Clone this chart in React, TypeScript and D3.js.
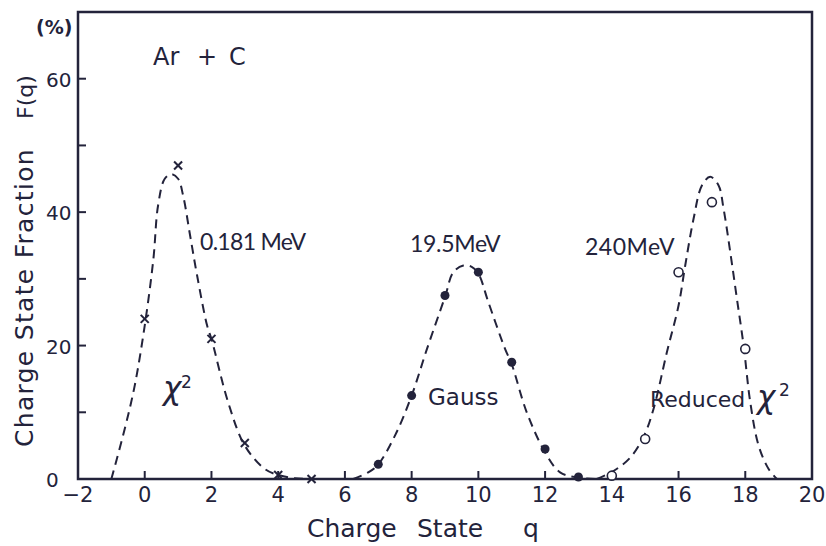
import React from "react";
import * as d3 from "d3";

// Measured points (Charge State q, Fraction %)
const crossQ = [0, 1, 2, 3, 4, 5];
const crossF = [24, 47, 21, 5.4, 0.6, 0];
const dotQ = [7, 8, 9, 10, 11, 12, 13];
const dotF = [2.2, 12.5, 27.5, 31, 17.5, 4.5, 0.3];
const ringQ = [14, 15, 16, 17, 18];
const ringF = [0.5, 6, 31, 41.5, 19.5];

// Fitted curves
const chiQ = [-1, -0.6, -0.3, 0, 0.26, 0.4, 0.6, 0.8, 1.0, 1.15, 1.36, 1.57, 1.87, 2.0, 2.5, 3.0, 3.6, 4.0, 4.5, 5.0];
const chiF = [0, 7.5, 14, 23, 33, 41, 45, 45.7, 45, 42.5, 36.5, 30.5, 23, 21, 11.5, 5, 1.5, 0.6, 0.1, 0];
const gaussQ = [6.25, 6.7, 7, 7.5, 8, 8.46, 9, 9.25, 9.55, 9.8, 10, 10.3, 10.8, 11, 11.45, 12, 12.45, 13, 13.5];
const gaussF = [0, 1.0, 2.2, 6.5, 12.5, 19.5, 27.3, 31, 32, 31.8, 30.8, 26.5, 19.5, 17.2, 10, 4, 1, 0.2, 0];
const redQ = [13.55, 14.05, 14.55, 14.95, 15.25, 15.65, 16, 16.2, 16.45, 16.7, 16.95, 17.2, 17.35, 17.55, 17.75, 17.95, 18.15, 18.4, 18.7, 18.95];
const redF = [0, 1.2, 3.2, 6.3, 10.5, 19, 26, 32, 39, 44, 45.3, 44, 40.5, 34, 27, 20, 11.5, 5, 1.5, 0];

const xTicks = [-2, 0, 2, 4, 6, 8, 10, 12, 14, 16, 18, 20];
const yTickLabels = [0, 20, 40, 60];
const yMinorTicks = [10, 20, 30, 40, 50, 60];

const INK = "#23233b";
const SANS = "'DejaVu Sans', sans-serif";
const LATO = "Lato, 'Open Sans', sans-serif";

export default function App() {
  const W = 826, H = 546;
  const left = 78, right = 812, top = 12, bottom = 479;
  const x = d3.scaleLinear().domain([-2, 20]).range([left, right]);
  const y = d3.scaleLinear().domain([0, 70]).range([bottom, top]);

  const line = d3.line<[number, number]>()
    .x(d => x(d[0]))
    .y(d => y(d[1]))
    .curve(d3.curveCatmullRom.alpha(0.5));

  const zip = (a: number[], b: number[]) => a.map((v, i) => [v, b[i]] as [number, number]);
  const curves = [zip(chiQ, chiF), zip(gaussQ, gaussF), zip(redQ, redF)];

  return (
    <svg width={W} height={H} style={{ position: "absolute", left: 0, top: 0, background: "#fff" }} fontFamily={SANS}>
      {/* frame */}
      <rect x={left} y={top} width={right - left} height={bottom - top} fill="none" stroke={INK} strokeWidth={2.5} />
      {/* x ticks */}
      {xTicks.slice(1, -1).map(t => (
        <line key={"xt" + t} x1={x(t)} x2={x(t)} y1={bottom} y2={bottom - 8} stroke={INK} strokeWidth={2} />
      ))}
      {xTicks.map(t => (
        <text key={"xl" + t} x={x(t)} y={502} textAnchor="middle" fontSize={21} fill={INK}>
          {t < 0 ? "\u2212" + Math.abs(t) : t}
        </text>
      ))}
      {/* y ticks */}
      {yMinorTicks.map(t => (
        <line key={"yt" + t} x1={left} x2={left + 8} y1={y(t)} y2={y(t)} stroke={INK} strokeWidth={2} />
      ))}
      {yTickLabels.map(t => (
        <text key={"yl" + t} x={46} y={y(t) + 8} textAnchor="start" fontSize={20} fill={INK}>{t}</text>
      ))}
      <text x={36} y={34} fontSize={19} fontWeight="bold" fill={INK}>(%)</text>

      {/* axis titles */}
      <text x={307} y={537} fontSize={25} fill={INK}>Charge</text>
      <text x={417} y={537} fontSize={25} fill={INK}>State</text>
      <text x={523} y={537} fontSize={25} fill={INK}>q</text>
      <text transform="translate(33,447) rotate(-90)" fontSize={25} fill={INK} letterSpacing={1.3}>Charge State Fraction</text>
      <text transform="translate(33,119) rotate(-90)" fontSize={22} fill={INK}>F(q)</text>

      {/* dashed fits */}
      {curves.map((c, i) => (
        <path key={"c" + i} d={line(c) || ""} fill="none" stroke={INK} strokeWidth={2} strokeDasharray="9,6" />
      ))}

      {/* crosses */}
      {crossQ.map((q, i) => {
        const cx = x(q), cy = y(crossF[i]), s = 4;
        return (
          <g key={"x" + i} stroke={INK} strokeWidth={2}>
            <line x1={cx - s} y1={cy - s} x2={cx + s} y2={cy + s} />
            <line x1={cx - s} y1={cy + s} x2={cx + s} y2={cy - s} />
          </g>
        );
      })}
      {/* filled dots */}
      {dotQ.map((q, i) => (
        <circle key={"d" + i} cx={x(q)} cy={y(dotF[i])} r={4.5} fill={INK} />
      ))}
      {/* open rings */}
      {ringQ.map((q, i) => (
        <circle key={"r" + i} cx={x(q)} cy={y(ringF[i])} r={4.5} fill="#fff" stroke={INK} strokeWidth={1.6} />
      ))}

      {/* annotations */}
      <text x={153} y={65} fontSize={24} fill={INK}>Ar</text>
      <text x={207} y={65} fontSize={24} fill={INK} textAnchor="middle">+</text>
      <text x={229} y={65} fontSize={24} fill={INK}>C</text>
      <text x={200} y={250} fontSize={23} fontFamily={LATO} fill={INK} letterSpacing={-0.7}>0.181 MeV</text>
      <text x={410} y={252} fontSize={23} fontFamily={LATO} fill={INK} letterSpacing={-0.3}>19.5MeV</text>
      <text x={585} y={255} fontSize={23} fontFamily={LATO} fill={INK} letterSpacing={0.5}>240MeV</text>
      <text x={163} y={399} fontSize={31} fontStyle="italic" fill={INK}>χ</text>
      <text x={181} y={388} fontSize={17} fill={INK}>2</text>
      <text x={428} y={405} fontSize={23} fill={INK}>Gauss</text>
      <text x={650} y={407} fontSize={22} fill={INK}>Reduced</text>
      <text x={757} y={408} fontSize={31} fontStyle="italic" fill={INK}>χ</text>
      <text x={779} y={396} fontSize={17} fill={INK}>2</text>
    </svg>
  );
}
